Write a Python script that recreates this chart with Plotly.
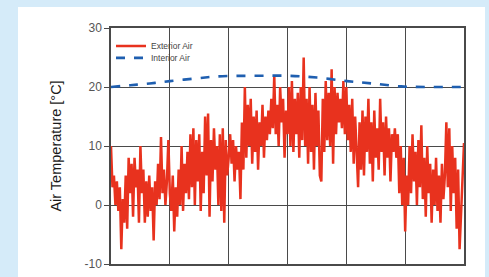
import plotly.graph_objects as go

# Exterior air temperature (zig-zag readings across the year, evenly spaced days 0..365)
exterior_temp = [
    10, 3, 5, 0, 4, -1, 3, -7.5, 1, -3, 5, -4, 8, 2, 7, -2, 8, 3, 6, -3,
    10, 2, 6, -3, 4, -2, 5, -1, 3, -6, 4, 0, 7, 1, 11.5, 2, 6, 0, 4, 11,
    2, -1, 5, -4.5, 3, -2, 6, 0, 10, -1, 7, 2, 9, 1, 12, 3, 13, 0, 11, 4,
    12, -1, 9, 2, 15, 5, 15.5, -2, 11, 4, 13, 6, 10, 0, 12, -1, 13, -3, 11, 5,
    8, 12, 7, 11, 4, 10, 6, 9, 1, 14, 6, 20, 8, 17, 10, 18, 7, 15, 9, 16,
    6, 14, 10, 17, 8, 15, 11, 16, 12, 18, 13, 22, 12, 17, 10, 20, 14, 18, 8, 16,
    12, 20, 10, 21, 9, 18, 12, 19, 8, 20, 11, 25, 10, 18, 7, 20, 9, 17, 6, 19,
    10, 16, 5, 4, 18, 9, 21, 11, 19, 10, 23, 7, 20, 12, 19, 14, 18, 13, 21, 12,
    20, 11, 17, 9, 18, 7, 15, 10, 3, 14, 6, 16, 5, 15, 9, 18, 7, 14, 4, 16,
    8, 13, 6, 18, 9, 14, 5, 15, 8, 13, 4, 12, 9, 13, 8, 12, 2, 10, 0, 8,
    -4.5, 5, 0, 10, 2, 12, 4, 9, 0, 11, 3, 13.5, 1, 8, -2, 10, 2, 7, -3, 6,
    0, 8, -1, 5, -3, 7, 1, 5, 14, 3, 13, -1, 10, 2, 8, -4, 6, -7.5, -2, 3,
    10.5,
]
n_ext = len(exterior_temp)
exterior_day = [i * 365 / (n_ext - 1) for i in range(n_ext)]

# Interior air temperature
interior_day = [0, 20, 40, 61, 91, 110, 150, 183, 213, 244, 270, 300, 330, 365]
interior_temp = [20, 20.3, 20.6, 21.0, 21.5, 21.8, 21.9, 21.9, 21.6, 21.0, 20.6, 20.1, 20.0, 20.0]

y_ticks = [-10, 0, 10, 20, 30]

FONT = "Liberation Sans, Arial, sans-serif"
GRID = "#4a4a4a"

fig = go.Figure()
fig.add_trace(go.Scatter(
    x=exterior_day, y=exterior_temp, mode="lines", name="Exterior Air",
    line=dict(color="#e8321e", width=2.5), legend="legend",
))
fig.add_trace(go.Scatter(
    x=interior_day, y=interior_temp, mode="lines", name="Interior Air",
    line=dict(color="#1f5fb0", width=2.6, dash="dash", shape="spline"), legend="legend2",
))

# plot area: x 111..464, y 28..264
fig.update_layout(
    width=489, height=277,
    margin=dict(l=111, r=25, t=28, b=13),
    paper_bgcolor="#d5ebf9",
    plot_bgcolor="white",
    font=dict(family=FONT, color="#444"),
    showlegend=True,
    legend=dict(x=0.0, y=0.985, xanchor="left", yanchor="top",
                bgcolor="rgba(0,0,0,0)", font=dict(size=8.5, color="#444"),
                itemwidth=30),
    legend2=dict(x=0.0, y=0.935, xanchor="left", yanchor="top",
                 bgcolor="rgba(0,0,0,0)", font=dict(size=8.5, color="#444"),
                 itemwidth=30),
    shapes=[dict(type="rect", xref="paper", yref="paper",
                 x0=-0.2635, x1=1.0595, y0=-0.1, y1=1.089,
                 fillcolor="white", line=dict(width=0), layer="below")],
)
fig.update_xaxes(
    range=[0, 365], tick0=0, dtick=365 / 6, showticklabels=False,
    showgrid=True, gridcolor=GRID, gridwidth=1.2,
    showline=True, linecolor=GRID, linewidth=1.5, mirror=True,
    zeroline=False, ticks="", automargin=False,
)
fig.update_yaxes(
    range=[-10, 30], tickvals=y_ticks, ticktext=[str(v) for v in y_ticks],
    showgrid=True, gridcolor=GRID, gridwidth=1.2,
    showline=True, linecolor=GRID, linewidth=1.5, mirror=True,
    zeroline=False, ticks="outside", ticklen=5, tickcolor=GRID,
    tickfont=dict(size=12, color="#555"), automargin=False,
    title=dict(text="Air Temperature [°C]", font=dict(size=14.5, color="#1a1a1a"), standoff=19),
)

fig.write_html("out.html", config={"displayModeBar": False},
               post_script="document.body.style.margin='0';")
